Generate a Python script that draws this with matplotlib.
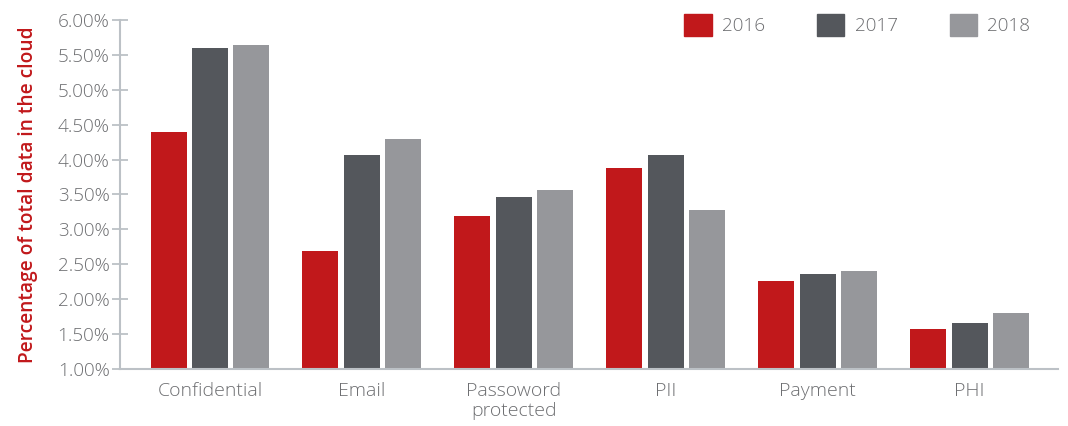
import matplotlib
matplotlib.use('Agg')
import matplotlib.pyplot as plt
from matplotlib.patches import Patch
import numpy as np

categories = ['Confidential', 'Email', 'Passoword\nprotected', 'PII', 'Payment', 'PHI']
years = ['2016', '2017', '2018']
v2016 = [4.39, 2.69, 3.19, 3.88, 2.26, 1.57]
v2017 = [5.60, 4.07, 3.46, 4.07, 2.36, 1.66]
v2018 = [5.64, 4.30, 3.56, 3.28, 2.40, 1.80]
yticks = [1.0, 1.5, 2.0, 2.5, 3.0, 3.5, 4.0, 4.5, 5.0, 5.5, 6.0]

colors = ['#c1181b', '#54575c', '#96979b']
text_grey = '#6d6e71'
axis_grey = '#bcc1c6'

plt.rcParams['font.family'] = ['Open Sans', 'DejaVu Sans']

fig = plt.figure(figsize=(10.68, 4.26), dpi=100)
ax = fig.add_axes([0.1124, 0.1338, 0.878, 0.8193])

x = np.arange(len(categories))
width = 0.237
step = 0.273
for i, vals in enumerate([v2016, v2017, v2018]):
    ax.bar(x + (i - 1) * step, np.array(vals) - 1.0, width, bottom=1.0,
           color=colors[i], label=years[i])

ax.set_ylim(1.0, 6.0)
ax.set_xlim(-0.592, 5.58)
ax.set_yticks(yticks)
ax.set_yticklabels(['%.2f%%' % t for t in yticks])
ax.set_xticks(x)
ax.set_xticklabels(categories)

for s in ['top', 'right']:
    ax.spines[s].set_visible(False)
for s in ['left', 'bottom']:
    ax.spines[s].set_color(axis_grey)
    ax.spines[s].set_linewidth(1.5)

ax.tick_params(axis='y', direction='inout', length=11, width=1.3, color=axis_grey,
               labelsize=13.6, labelcolor=text_grey, pad=2)
ax.tick_params(axis='x', length=0, labelsize=14, labelcolor=text_grey, pad=9)
for lab in ax.get_yticklabels() + ax.get_xticklabels():
    lab.set_fontweight('light')

ax.set_ylabel('Percentage of total data in the cloud', color='#c1181b',
              fontsize=13.8, fontweight='semibold', labelpad=14)

handles = [Patch(color=c) for c in colors]
leg = ax.legend(handles, years, loc='upper right', bbox_to_anchor=(0.979, 1.04),
                ncol=3, frameon=False, fontsize=13.6, handlelength=1.45,
                handleheight=1.45, handletextpad=0.55, columnspacing=2.75,
                borderaxespad=0)
for t in leg.get_texts():
    t.set_color(text_grey)
    t.set_fontweight('light')

fig.savefig('out.png', dpi=100)
